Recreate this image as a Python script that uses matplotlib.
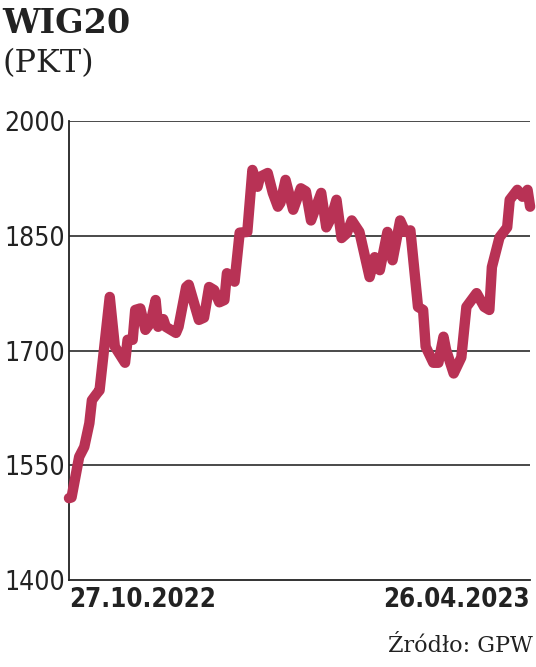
import matplotlib
matplotlib.use("Agg")
import matplotlib.pyplot as plt

# WIG20, punkty (dni od 27.10.2022)
dni = [0, 1, 4, 6, 8, 9, 11, 12, 16, 18, 22, 23, 25, 26, 28, 30, 32, 34, 35, 37,
       38, 42, 43, 46, 47, 51, 53, 55, 57, 59, 61, 62, 65, 67, 70, 72, 74, 75, 78, 80,
       82, 83, 85, 88, 91, 93, 95, 99, 101, 103, 105, 107, 109, 111, 114, 118, 120, 122, 125, 127,
       130, 132, 134, 137, 139, 140, 143, 145, 147, 148, 151, 154, 156, 158, 160, 163, 165, 166, 169, 172,
       173, 176, 178, 180, 181]
wig20 = [1507, 1508, 1561, 1574, 1605, 1635, 1644, 1648, 1770, 1705, 1684, 1714, 1714, 1753, 1755, 1727, 1736, 1766, 1731, 1741,
         1731, 1723, 1731, 1783, 1786, 1740, 1743, 1783, 1779, 1763, 1766, 1801, 1790, 1854, 1855, 1936, 1914, 1927, 1932, 1906,
         1888, 1893, 1923, 1884, 1912, 1908, 1870, 1906, 1861, 1874, 1897, 1847, 1853, 1870, 1855, 1796, 1822, 1805, 1855, 1818,
         1870, 1855, 1857, 1757, 1753, 1705, 1684, 1684, 1718, 1701, 1670, 1691, 1757, 1766, 1775, 1757, 1753, 1809, 1848, 1861,
         1897, 1910, 1901, 1910, 1888]
poziomy = [1400, 1550, 1700, 1850, 2000]
daty = ["27.10.2022", "26.04.2023"]

fig = plt.figure(figsize=(5.36, 6.67), dpi=100)
ax = fig.add_axes([0.1287, 0.1304, 0.8603, 0.6882])

for p in poziomy[1:]:
    ax.axhline(p, color="#2b2b2b", lw=1.2, zorder=1)

ax.plot(dni, wig20, color="#b83255", lw=7.5, solid_capstyle="round",
        solid_joinstyle="round", zorder=3, clip_on=False)

ax.set_ylim(poziomy[0], poziomy[-1])
ax.set_xlim(0, dni[-1])
ax.set_yticks(poziomy)
ax.set_yticklabels([str(p) for p in poziomy], family="DejaVu Sans", stretch="condensed",
                   fontsize=19, color="#222222")
ax.tick_params(axis="y", length=0, pad=3)
ax.set_xticks([])
for s in ["top", "right"]:
    ax.spines[s].set_visible(False)
for s in ["left", "bottom"]:
    ax.spines[s].set_color("#222222")
    ax.spines[s].set_linewidth(1.3)

ax.text(0, -0.016, daty[0], transform=ax.transAxes, ha="left", va="top",
        family="DejaVu Sans", stretch="condensed", fontweight="bold", fontsize=18.5, color="#222222")
ax.text(1, -0.016, daty[1], transform=ax.transAxes, ha="right", va="top",
        family="DejaVu Sans", stretch="condensed", fontweight="bold", fontsize=18.5, color="#222222")

fig.text(0.004, 0.990, "WIG20", ha="left", va="top", family="DejaVu Serif",
         fontweight="bold", fontsize=24, color="#222222")
fig.text(0.004, 0.928, "(PKT)", ha="left", va="top", family="DejaVu Serif",
         fontsize=23, color="#222222")
fig.text(0.995, 0.015, "Źródło: GPW", ha="right", va="bottom", family="DejaVu Serif",
         fontsize=16, color="#222222")

fig.savefig("out.png", dpi=100)
